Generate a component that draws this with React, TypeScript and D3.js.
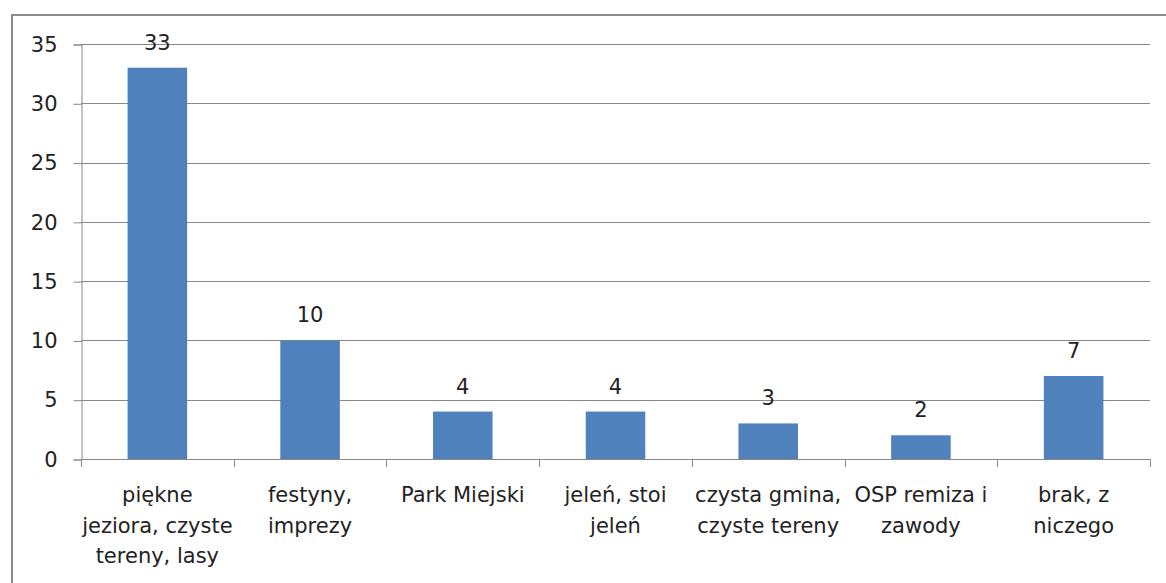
import { useEffect, useRef } from "react";
import * as d3 from "d3";

// category labels, line breaks as in the original chart
const categories = [
  "piękne\njeziora, czyste\ntereny, lasy",
  "festyny,\nimprezy",
  "Park Miejski",
  "jeleń, stoi\njeleń",
  "czysta gmina,\nczyste tereny",
  "OSP remiza i\nzawody",
  "brak, z\nniczego",
];
const values = [33, 10, 4, 4, 3, 2, 7];
const yTicks = [0, 5, 10, 15, 20, 25, 30, 35];

const W = 1166;
const H = 583;
const FONT = "'DejaVu Sans', sans-serif";
const FS = "21px";

const App = () => {
  const svgRef = useRef<SVGSVGElement | null>(null);

  useEffect(() => {
    const svg = d3.select(svgRef.current);
    svg.selectAll("*").remove();

    const left = 81;
    const right = 1150;
    const top = 44;
    const bottom = 459;

    // chart frame (cut off right and bottom)
    svg
      .append("path")
      .attr("d", `M12,${H + 5}V15H${W + 5}`)
      .attr("fill", "none")
      .attr("stroke", "#8c8c8c")
      .attr("stroke-width", 2);

    const x = d3
      .scaleBand()
      .domain(categories)
      .range([left, right])
      .paddingInner(0.61)
      .paddingOuter(0.305);
    const step = (right - left) / categories.length;

    const y = d3.scaleLinear().domain([0, 35]).range([bottom, top]);

    // gridlines
    svg
      .append("g")
      .selectAll("line")
      .data(yTicks.filter((t) => t > 0))
      .enter()
      .append("line")
      .attr("x1", left)
      .attr("x2", right)
      .attr("y1", (d) => Math.round(y(d)) + 0.5)
      .attr("y2", (d) => Math.round(y(d)) + 0.5)
      .attr("stroke", "#888")
      .attr("stroke-width", 1);

    // y axis
    const yAxis = svg
      .append("g")
      .attr("transform", `translate(${left + 0.5},0.5)`)
      .call(d3.axisLeft(y).tickValues(yTicks).tickSize(8).tickPadding(16));
    yAxis.select(".domain").attr("stroke", "#888");
    yAxis.selectAll(".tick line").attr("stroke", "#888");
    yAxis
      .selectAll(".tick text")
      .attr("fill", "#222")
      .style("font-family", FONT)
      .style("font-size", FS);

    // bars
    svg
      .selectAll(".bar")
      .data(values)
      .enter()
      .append("rect")
      .attr("class", "bar")
      .attr("x", (d, i) => x(categories[i]) as number)
      .attr("y", (d) => y(d))
      .attr("width", x.bandwidth())
      .attr("height", (d) => bottom - y(d))
      .attr("fill", "#4F81BD");

    // value labels
    svg
      .selectAll(".val")
      .data(values)
      .enter()
      .append("text")
      .attr("class", "val")
      .attr("x", (d, i) => (x(categories[i]) as number) + x.bandwidth() / 2)
      .attr("y", (d) => y(d) - 18)
      .attr("text-anchor", "middle")
      .attr("fill", "#222")
      .style("font-family", FONT)
      .style("font-size", FS)
      .text((d) => d);

    // x axis line and ticks
    const xg = svg.append("g");
    xg.append("line")
      .attr("x1", left)
      .attr("x2", right)
      .attr("y1", bottom + 0.5)
      .attr("y2", bottom + 0.5)
      .attr("stroke", "#888");
    xg.selectAll(".xt")
      .data(d3.range(categories.length + 1))
      .enter()
      .append("line")
      .attr("class", "xt")
      .attr("x1", (d) => Math.round(left + d * step) + 0.5)
      .attr("x2", (d) => Math.round(left + d * step) + 0.5)
      .attr("y1", bottom)
      .attr("y2", bottom + 8)
      .attr("stroke", "#888");

    // category labels
    const labels = svg
      .selectAll(".cat")
      .data(categories)
      .enter()
      .append("text")
      .attr("class", "cat")
      .attr("text-anchor", "middle")
      .attr("fill", "#222")
      .style("font-family", FONT)
      .style("font-size", FS);
    labels.each(function (d) {
      const cx = (x(d) as number) + x.bandwidth() / 2;
      d3.select(this)
        .selectAll("tspan")
        .data(d.split("\n"))
        .enter()
        .append("tspan")
        .attr("x", cx)
        .attr("y", (t, i) => 502 + i * 30.5)
        .text((t) => t);
    });
  }, []);

  return (
    <svg
      ref={svgRef}
      width={W}
      height={H}
      style={{ position: "absolute", left: 0, top: 0, background: "#fff" }}
    ></svg>
  );
};

export default App;
